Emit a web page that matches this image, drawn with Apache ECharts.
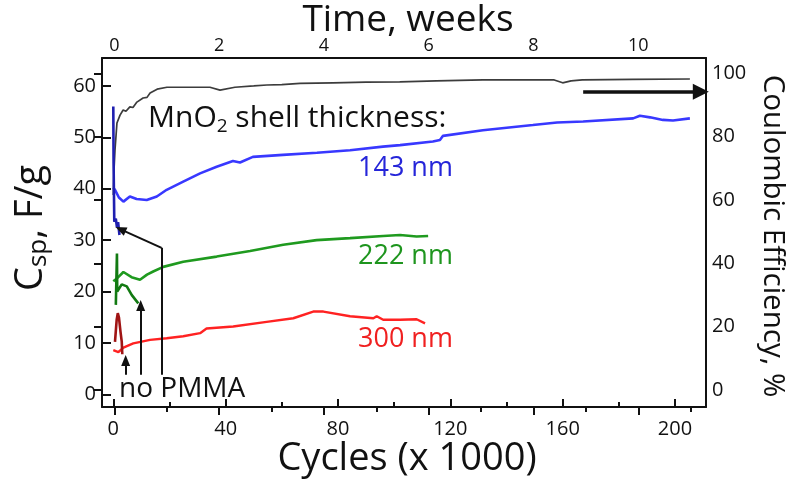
<!DOCTYPE html>
<html><head><meta charset="utf-8">
<script src="https://cdn.jsdelivr.net/npm/echarts@6/dist/echarts.min.js"></script>
<style>html,body{margin:0;padding:0;background:#fff}#c{width:794px;height:482px}</style>
</head><body><div id="c"></div>
<script>
// ---------- data (x = cycles x1000) ----------
const coulombicEff = [[0,61.6],[0.25,69.5],[0.6,75.8],[1.3,84.3],[2.4,86.8],[3.5,88.4],[4.5,88.0],[5.9,89.4],[7,89.2],[8.4,90.9],[10.6,92.2],[12,92.4],[13.1,93.8],[15.6,95.0],[19.1,95.6],[26.2,95.6],[34.4,95.6],[38,94.7],[43.3,95.6],[50,96.0],[54.7,96.3],[60,96.4],[66.5,96.8],[78.2,97.0],[90,97.2],[102,97.3],[115,97.6],[131.6,97.9],[145,97.9],[157,97.9],[160,97.0],[163,97.6],[167,97.9],[185,98.1],[205.3,98.2]];
const cap143 = [[0,40.2],[0.6,39.8],[2,38.3],[3.6,37.5],[5.9,38.5],[8.3,38.0],[11.9,37.8],[15.5,38.5],[19,39.8],[24.9,41.4],[30.9,43.0],[36.8,44.3],[42.6,45.4],[45.1,45.1],[49.7,46.2],[60.4,46.6],[72.5,47.0],[84.3,47.5],[96,48.2],[102.1,48.5],[113.8,49.2],[116.3,49.5],[117.4,50.3],[131.6,51.4],[149.4,52.4],[158,52.9],[167.3,53.1],[185.1,53.7],[187.5,54.2],[191.1,53.9],[195.7,53.4],[199.3,53.3],[205.3,53.7]];
const cap143NoPMMA = [[0,56],[0.1,45],[0.35,33.6],[0.9,34.2],[1.3,32.5],[1.7,33.5],[2.2,31.0]];
const cap222 = [[0,22.0],[1.4,22.6],[3.6,23.8],[6.5,22.8],[9.5,22.3],[12,23.3],[14.2,23.9],[17.8,24.8],[24.9,25.8],[36.8,26.8],[48.7,27.9],[60.5,29.1],[72.4,30.0],[84.3,30.4],[96.1,30.8],[102.1,31.0],[108,30.7],[112.1,30.8]];
const cap222NoPMMA = [[0.9,17.4],[1.3,27.4],[1.4,20.0],[3.0,21.4],[4.8,21.0],[6.6,19.3],[8.9,17.7]];
const cap300 = [[0,8.6],[1.8,8.2],[3.6,9.1],[7.1,9.9],[13.1,10.6],[19,10.9],[24.9,11.3],[30.9,11.9],[33.2,12.8],[42.7,13.2],[54.6,14.1],[64.1,14.8],[71.2,16.1],[74.8,16.1],[84.3,15.2],[92.6,14.8],[93.8,15.2],[96.1,14.5],[102.1,14.5],[108,14.6],[111,13.8]];
const cap300NoPMMA = [[0.6,10.2],[1.2,14.5],[1.6,15.8],[2.0,15.0],[2.6,12.0],[3.0,10.3],[3.2,7.8]];
const thicknessLabels = ['143 nm','222 nm','300 nm'];
// ---------- tick labels ----------
const cycleTicks = [0,40,80,120,160,200];
const weekTicks = [0,2,4,6,8,10];
const capTicks = [0,10,20,30,40,50,60];
const ceTicks = [0,20,40,60,80,100];
// ---------- annotation arrows (data coords: cycles, F/g) ----------
const arrowShort = [[4.4,3.8],[4.4,6.6]];
const arrowMid = [[9.75,3.8],[9.75,17.3]];
const arrowLongStem = [[17.2,3.8],[17.2,28.5]];
const arrowLongHead = [[17.2,28.5],[2.6,32.1]];
const arrowCE = [[167.3,58.9],[209.2,58.9]];

// ---------- layout (pixels) ----------
const FL = 102, FR = 706, FT = 58, FB = 407;
const pxCyc0 = 113.3, pxCyc200 = 675;
const pxWk0 = 114.3, pxWk10 = 638.3;
const pxCap0 = 394.3, pxCap60 = 86;
const pxCe0 = 390, pxCe100 = 73.3;

const cycPerPx = 200 / (pxCyc200 - pxCyc0);
const xMin = -(pxCyc0 - FL) * cycPerPx, xMax = (FR - pxCyc0) * cycPerPx;
const capPerPx = 60 / (pxCap0 - pxCap60);
const capMin = -(FB - pxCap0) * capPerPx, capMax = 60 + (pxCap60 - FT) * capPerPx;
const cePerPx = 100 / (pxCe0 - pxCe100);
const ceMin = -(FB - pxCe0) * cePerPx, ceMax = 100 + (pxCe100 - FT) * cePerPx;
const wkPx = (pxWk10 - pxWk0) / 10;

const FONT = '"Open Sans", "Noto Sans", sans-serif';
const INK = '#111';
const tickLine = {color: INK, width: 2};
const lbl = (m) => ({fontFamily: FONT, fontSize: 20, color: INK, margin: m});
const step = (a) => a[1] - a[0];

const grids = [
  {left: FL, top: FT, width: FR - FL, height: FB - FT},
  {left: pxCyc0, top: FT, width: pxCyc200 - pxCyc0, height: FB - FT},
  {left: pxWk0, top: FT, width: pxWk10 - pxWk0, height: FB - FT},
  {left: pxWk0, top: FT, width: wkPx * 11, height: FB - FT},
  {left: FL, top: pxCap60, width: FR - FL, height: pxCap0 - pxCap60},
  {left: FL, top: pxCe100, width: FR - FL, height: pxCe0 - pxCe100}
].map(g => Object.assign({containLabel: false, outerBoundsMode: 'none', show: false}, g));

const frameAxis = (o) => Object.assign({
  type: 'value', axisLine: {show: true, onZero: false, lineStyle: tickLine},
  axisTick: {show: false}, axisLabel: {show: false}, splitLine: {show: false}
}, o);
const hidden = (g) => ({type: 'value', gridIndex: g, show: false, min: 0, max: 1});

const xAxis = [
  frameAxis({gridIndex: 0, position: 'bottom', min: xMin, max: xMax}),
  frameAxis({gridIndex: 0, position: 'top', min: 0, max: 1}),
  {type: 'value', gridIndex: 1, position: 'bottom', min: cycleTicks[0], max: cycleTicks[cycleTicks.length-1], interval: step(cycleTicks),
   axisLine: {show: false}, splitLine: {show: false},
   axisTick: {show: true, inside: true, length: 8, lineStyle: tickLine},
   minorTick: {show: true, splitNumber: 2, length: 5, lineStyle: tickLine},
   axisLabel: Object.assign(lbl(12), {fontSize: 20})},
  {type: 'value', gridIndex: 2, position: 'top', min: weekTicks[0], max: weekTicks[weekTicks.length-1], interval: step(weekTicks),
   axisLine: {show: false}, splitLine: {show: false},
   axisTick: {show: true, inside: true, length: 8, lineStyle: tickLine},
   axisLabel: Object.assign(lbl(3), {fontSize: 18})},
  {type: 'value', gridIndex: 3, position: 'top', min: 0, max: 11, interval: 1,
   axisLine: {show: false}, splitLine: {show: false},
   axisTick: {show: true, inside: true, length: 5, lineStyle: tickLine},
   axisLabel: {show: false}},
  hidden(4), hidden(5)
];
const yAxis = [
  frameAxis({gridIndex: 0, position: 'left', min: capMin, max: capMax}),
  frameAxis({gridIndex: 0, position: 'right', min: ceMin, max: ceMax}),
  hidden(1), hidden(2), hidden(3),
  {type: 'value', gridIndex: 4, position: 'left', min: capTicks[0], max: capTicks[capTicks.length-1], interval: step(capTicks),
   axisLine: {show: false}, splitLine: {show: false},
   axisTick: {show: true, inside: true, length: 9, lineStyle: tickLine},
   axisLabel: lbl(6)},
  {type: 'value', gridIndex: 5, position: 'right', min: ceTicks[0], max: ceTicks[ceTicks.length-1], interval: step(ceTicks),
   axisLine: {show: false}, splitLine: {show: false},
   axisTick: {show: true, inside: true, length: 8, lineStyle: tickLine},
   axisLabel: lbl(6)}
];

const line = (name, data, color, width, yi) => ({
  name, type: 'line', data, xAxisIndex: 0, yAxisIndex: yi || 0,
  showSymbol: false, symbol: 'none', smooth: false, clip: false,
  lineStyle: {color, width}, itemStyle: {color}, z: 3
});
const seg = (pts, head) => [{coord: pts[0], symbol: 'none'}, {coord: pts[1], symbol: head ? 'triangle' : 'none'}];

const annot = line('annot', [], INK, 0);
annot.markLine = {
  silent: true, animation: false, label: {show: false},
  symbol: ['none', 'triangle'], symbolSize: [9, 11],
  lineStyle: {color: INK, width: 2, type: 'solid'},
  emphasis: {disabled: true},
  data: [seg(arrowShort, true), seg(arrowMid, true), seg(arrowLongStem, false), seg(arrowLongHead, true)]
};
const bigArrow = line('bigArrow', [], INK, 0);
bigArrow.markLine = {
  silent: true, animation: false, label: {show: false},
  symbol: ['none', 'triangle'], symbolSize: [16, 16],
  lineStyle: {color: INK, width: 3.5, type: 'solid'},
  emphasis: {disabled: true},
  data: [seg(arrowCE, true)]
};

const txt = (x, y, text, size, color, extra) => Object.assign({
  type: 'text', x, y, silent: true,
  style: Object.assign({text, fontFamily: FONT, fontSize: size, fill: color || INK,
    align: 'left', verticalAlign: 'middle', textAlign: 'left', textVerticalAlign: 'middle'}, extra || {})
}, {});

const graphic = [
  txt(408, 20, 'Time, weeks', 37, INK, {align: 'center', textAlign: 'center'}),
  txt(407, 459, 'Cycles (x 1000)', 38, INK, {align: 'center', textAlign: 'center'}),
  Object.assign(txt(31, 228, '{m|C}{s|sp}{m|, F/g}', 38, INK, {align: 'center', textAlign: 'center',
    rich: {m: {fontFamily: FONT, fontSize: 38, fill: INK, verticalAlign: 'middle'},
           s: {fontFamily: FONT, fontSize: 26, fill: INK, verticalAlign: 'middle', padding: [16, 0, 0, 0]}}}),
    {rotation: Math.PI / 2}),
  Object.assign(txt(772, 236, 'Coulombic Efficiency, %', 29.5, INK, {align: 'center', textAlign: 'center'}),
    {rotation: -Math.PI / 2}),
  txt(148, 118, '{m|MnO}{s|2}{m| shell thickness:}', 30, INK, {
    rich: {m: {fontFamily: FONT, fontSize: 30, fill: INK, verticalAlign: 'middle'},
           s: {fontFamily: FONT, fontSize: 19, fill: INK, verticalAlign: 'middle', padding: [18, 0, 0, 0]}}}),
  txt(358, 168, thicknessLabels[0], 27, '#2525d9'),
  txt(358, 256, thicknessLabels[1], 27, '#1e951e'),
  txt(358, 339, thicknessLabels[2], 27, '#f02020'),
  txt(119, 389, 'no PMMA', 28, INK)
];

const chart = echarts.init(document.getElementById('c'), null, {renderer: 'canvas'});
chart.setOption({
  animation: false, backgroundColor: '#fff',
  grid: grids, xAxis, yAxis, graphic,
  series: [
    line('CE', coulombicEff, '#3c3c3c', 1.7, 1),
    line('143 nm', cap143, '#3838ff', 2.6),
    line('300 nm', cap300, '#ff2222', 2.4),
    line('222 nm', cap222, '#1f9a1f', 2.6),
    line('143 nm no PMMA', cap143NoPMMA, '#1f1fb0', 2.6),
    line('222 nm no PMMA', cap222NoPMMA, '#127a12', 2.6),
    line('300 nm no PMMA', cap300NoPMMA, '#a01414', 2.6),
    annot, bigArrow
  ]
});
</script></body></html>
